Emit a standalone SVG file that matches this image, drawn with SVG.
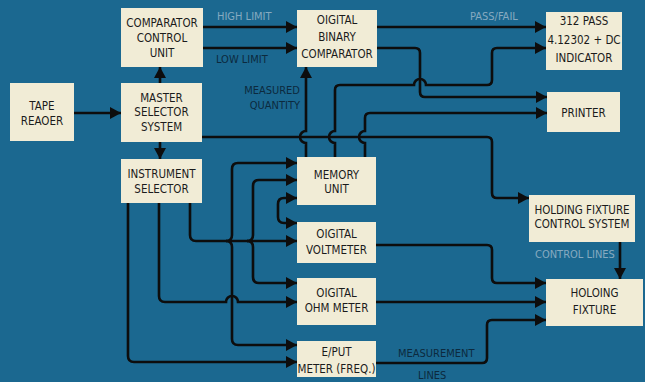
<svg xmlns="http://www.w3.org/2000/svg" width="645" height="382" viewBox="0 0 645 382">
<style>
text{font-family:"DejaVu Sans Condensed","Liberation Sans Narrow","Liberation Sans",sans-serif;font-size:11.5px;}
.box{fill:#f1ecd6;}
.t{fill:#1b1b1b;text-anchor:middle;}
.lbl{fill:#0c2a3e;font-size:11px;}
.faint{fill:#86aac0;font-size:11px;}
.c{fill:none;stroke:#0d0d0d;stroke-width:2.6;}
</style>
<defs>
<marker id="ah" markerUnits="userSpaceOnUse" markerWidth="11" markerHeight="12" refX="11" refY="6" orient="auto">
<path d="M0,0 L11,6 L0,12 z" fill="#0d0d0d"/>
</marker>
</defs>
<rect width="645" height="382" fill="#1b6890"/>

<g id="connectors">
<path class="c" d="M74,113 H121" marker-end="url(#ah)"/>
<path class="c" d="M160,83 V67" marker-end="url(#ah)"/>
<path class="c" d="M160,142 V159" marker-end="url(#ah)"/>
<path class="c" d="M203,27 H297" marker-end="url(#ah)"/>
<path class="c" d="M203,48 H297" marker-end="url(#ah)"/>
<path class="c" d="M377,27 H546" marker-end="url(#ah)"/>
<path class="c" d="M377,48 H415 Q420,48 420,53 V92 Q420,97 425,97 H547" marker-end="url(#ah)"/>
<path class="c" d="M335,157 V143 A6,6 0 0 1 335,131 V90 Q335,85 340,85 H414 A6,6 0 0 1 426,85 H487 Q492,85 492,80 V53 Q492,48 497,48 H546" marker-end="url(#ah)"/>
<path class="c" d="M365,157 V143 A6,6 0 0 1 365,131 V118 Q365,113 370,113 H547" marker-end="url(#ah)"/>
<path class="c" d="M306,157 V143 A6,6 0 0 1 306,131 V67" marker-end="url(#ah)"/>
<path class="c" d="M202,137 H487 Q492,137 492,142 V193 Q492,198 497,198 H529" marker-end="url(#ah)"/>
<path class="c" d="M190,203 V235 Q190,241 196,241 H297" marker-end="url(#ah)"/>
<path class="c" d="M226,241 Q232,241 232,235 V169 Q232,163 238,163 H297" marker-end="url(#ah)"/>
<path class="c" d="M226,241 Q232,241 232,247 V339 Q232,345 238,345 H297" marker-end="url(#ah)"/>
<path class="c" d="M247,241 Q253,241 253,235 V186 Q253,180 259,180 H297" marker-end="url(#ah)"/>
<path class="c" d="M247,241 Q253,241 253,247 V277 Q253,283 259,283 H297" marker-end="url(#ah)"/>
<path class="c" d="M278,210 V204 Q278,198 284,198 H297" marker-end="url(#ah)"/>
<path class="c" d="M278,210 V217 Q278,223 284,223 H297" marker-end="url(#ah)"/>
<path class="c" d="M159,203 V296 Q159,302 165,302 H226 A6,6 0 0 1 238,302 H297" marker-end="url(#ah)"/>
<path class="c" d="M128,203 V356 Q128,362 134,362 H297" marker-end="url(#ah)"/>
<path class="c" d="M376,245 H487 Q492,245 492,250 V278 Q492,283 497,283 H546" marker-end="url(#ah)"/>
<path class="c" d="M376,302 H546" marker-end="url(#ah)"/>
<path class="c" d="M376,363 H482 Q487,363 487,358 V325 Q487,320 492,320 H546" marker-end="url(#ah)"/>
<path class="c" d="M620,242 V279" marker-end="url(#ah)"/>
<text class="faint" x="217" y="20">HIGH LIMIT</text>
<text class="lbl" x="216" y="63">LOW LIMIT</text>
<text class="faint" x="470" y="20">PASS/FAIL</text>
<text class="lbl" x="300" y="94" text-anchor="end">MEASURED</text>
<text class="lbl" x="300" y="109" text-anchor="end">QUANTITY</text>
<text class="lbl" x="398" y="357">MEASUREMENT</text>
<text class="lbl" x="418" y="379">LINES</text>
<text class="faint" x="535" y="258">CONTROL LINES</text>
</g>

<g id="tape-reader">
<rect class="box" x="10" y="83" width="64" height="58"/>
<text class="t" x="42" y="110">TAPE</text>
<text class="t" x="42" y="125">REAOER</text>
</g>
<g id="comparator-control-unit">
<rect class="box" x="121" y="8" width="82" height="59"/>
<text class="t" x="162" y="27">COMPARATOR</text>
<text class="t" x="162" y="42">CONTROL</text>
<text class="t" x="162" y="57">UNIT</text>
</g>
<g id="master-selector-system">
<rect class="box" x="121" y="83" width="81" height="59"/>
<text class="t" x="161.5" y="102">MASTER</text>
<text class="t" x="161.5" y="116">SELECTOR</text>
<text class="t" x="161.5" y="131">SYSTEM</text>
</g>
<g id="instrument-selector">
<rect class="box" x="121" y="159" width="81" height="44"/>
<text class="t" x="161.5" y="178">INSTRUMENT</text>
<text class="t" x="161.5" y="193">SELECTOR</text>
</g>
<g id="digital-binary-comparator">
<rect class="box" x="297" y="10" width="80" height="57"/>
<text class="t" x="337" y="24">OIGITAL</text>
<text class="t" x="337" y="41">BINARY</text>
<text class="t" x="337" y="58">COMPARATOR</text>
</g>
<g id="indicator">
<rect class="box" x="546" y="12" width="76" height="58"/>
<text class="t" x="584" y="25">312  PASS</text>
<text class="t" x="584" y="44">4.12302 + DC</text>
<text class="t" x="584" y="62">INDICATOR</text>
</g>
<g id="printer">
<rect class="box" x="547" y="92" width="73" height="40"/>
<text class="t" x="583.5" y="117">PRINTER</text>
</g>
<g id="memory-unit">
<rect class="box" x="297" y="157" width="79" height="48"/>
<text class="t" x="336.5" y="179">MEMORY</text>
<text class="t" x="336.5" y="193">UNIT</text>
</g>
<g id="digital-voltmeter">
<rect class="box" x="297" y="222" width="79" height="41"/>
<text class="t" x="336.5" y="238">OIGITAL</text>
<text class="t" x="336.5" y="254">VOLTMETER</text>
</g>
<g id="digital-ohm-meter">
<rect class="box" x="297" y="278" width="79" height="47"/>
<text class="t" x="336.5" y="297">OIGITAL</text>
<text class="t" x="336.5" y="312">OHM  METER</text>
</g>
<g id="eput-meter">
<rect class="box" x="297" y="341" width="79" height="36"/>
<text class="t" x="336.5" y="356">E/PUT</text>
<text class="t" x="336.5" y="373">METER (FREQ.)</text>
</g>
<g id="holding-fixture-control-system">
<rect class="box" x="529" y="195" width="106" height="47"/>
<text class="t" x="582" y="214">HOLDING  FIXTURE</text>
<text class="t" x="582" y="228">CONTROL  SYSTEM</text>
</g>
<g id="holding-fixture">
<rect class="box" x="546" y="279" width="97" height="47"/>
<text class="t" x="594.5" y="297">HOLOING</text>
<text class="t" x="594.5" y="314">FIXTURE</text>
</g>
</svg>
